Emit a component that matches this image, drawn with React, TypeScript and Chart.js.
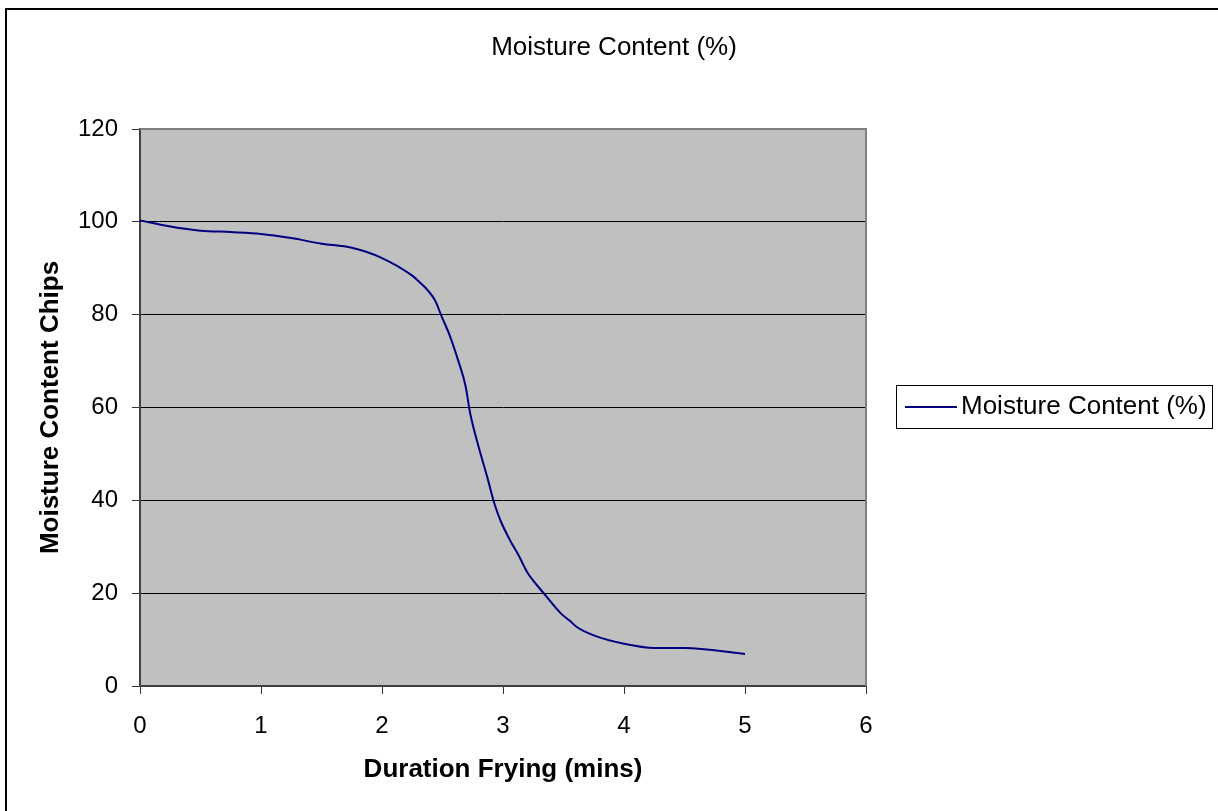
import React, { useEffect, useRef } from "react";
import { Chart, registerables } from "chart.js";

Chart.register(...registerables);

const chartTitle = "Moisture Content (%)";
const seriesLabel = "Moisture Content (%)";
const xAxisTitle = "Duration Frying (mins)";
const yAxisTitle = "Moisture Content Chips";

const durationMins = [
  0, 0.25, 0.5, 0.75, 1.0, 1.25, 1.5, 1.75, 2.0, 2.25, 2.31, 2.38, 2.44, 2.49, 2.56, 2.63, 2.69, 2.73,
  2.8, 2.87, 2.93, 2.98, 3.06, 3.13, 3.2, 3.25, 3.33, 3.48, 3.55, 3.61, 3.75, 4.0, 4.25, 4.5, 5.0,
];
const moisture = [
  100.3, 99.0, 98.1, 97.8, 97.4, 96.5, 95.3, 94.4, 92.2, 88.4, 87.0, 85.2, 83.0, 79.8, 75.5, 70.1, 64.7, 58.6,
  51.4, 45.0, 39.2, 35.6, 31.3, 28.1, 24.5, 22.7, 20.2, 15.6, 14.1, 12.7, 10.9, 9.1, 8.2, 8.2, 6.9,
];

const xMin = 0;
const xMax = 6;
const xStep = 1;
const yMin = 0;
const yMax = 120;
const yStep = 20;

const FONT = 'Arial, "Liberation Sans", sans-serif';

export default function App() {
  const ref = useRef<HTMLCanvasElement | null>(null);

  useEffect(() => {
    const canvas = ref.current;
    if (!canvas) return;

    const decor = {
      id: "decor",
      beforeDraw(chart: any) {
        const { ctx, chartArea: a } = chart;
        ctx.save();
        ctx.fillStyle = "#ffffff";
        ctx.fillRect(0, 0, chart.width, chart.height);
        ctx.fillStyle = "#C0C0C0";
        ctx.fillRect(a.left, a.top, a.right - a.left, a.bottom - a.top);
        // outer frame
        ctx.strokeStyle = "#000000";
        ctx.lineWidth = 2;
        ctx.beginPath();
        ctx.moveTo(6, chart.height + 5);
        ctx.lineTo(6, 9);
        ctx.lineTo(chart.width + 5, 9);
        ctx.stroke();
        // chart title
        ctx.fillStyle = "#000000";
        ctx.font = `26px ${FONT}`;
        ctx.textAlign = "center";
        ctx.textBaseline = "middle";
        ctx.fillText(chartTitle, 614, 48);
        ctx.restore();
      },
      beforeDatasetsDraw(chart: any) {
        const { ctx, chartArea: a } = chart;
        ctx.save();
        ctx.strokeStyle = "#808080";
        ctx.lineWidth = 2;
        ctx.beginPath();
        ctx.moveTo(a.left, a.top);
        ctx.lineTo(a.right, a.top);
        ctx.lineTo(a.right, a.bottom);
        ctx.stroke();
        ctx.restore();
      },
      afterDraw(chart: any) {
        const { ctx } = chart;
        const ds = chart.data.datasets[0];
        ctx.save();
        ctx.fillStyle = "#ffffff";
        ctx.fillRect(896.5, 385.5, 316, 43);
        ctx.strokeStyle = "#000000";
        ctx.lineWidth = 1;
        ctx.strokeRect(896.5, 385.5, 316, 43);
        ctx.strokeStyle = ds.borderColor;
        ctx.lineWidth = 2;
        ctx.beginPath();
        ctx.moveTo(905, 407);
        ctx.lineTo(957, 407);
        ctx.stroke();
        ctx.fillStyle = "#000000";
        ctx.font = `26px ${FONT}`;
        ctx.textAlign = "left";
        ctx.textBaseline = "middle";
        ctx.fillText(ds.label, 961, 407);
        ctx.restore();
      },
    };

    const chart = new Chart(canvas, {
      type: "line",
      data: {
        datasets: [
          {
            label: seriesLabel,
            data: durationMins.map((x, i) => ({ x, y: moisture[i] })),
            borderColor: "#000080",
            backgroundColor: "#000080",
            borderWidth: 2,
            pointRadius: 0,
            cubicInterpolationMode: "monotone",
            fill: false,
          },
        ],
      },
      options: {
        responsive: false,
        animation: false,
        devicePixelRatio: 1,
        layout: { padding: { top: 129, left: 35, right: 352, bottom: 26 } },
        plugins: {
          legend: { display: false },
          tooltip: { enabled: false },
          title: { display: false },
        },
        scales: {
          x: {
            type: "linear",
            min: xMin,
            max: xMax,
            afterFit(scale: any) {
              scale.height = 99;
            },
            ticks: {
              stepSize: xStep,
              color: "#000",
              padding: 18,
              font: { family: FONT, size: 24 },
              maxRotation: 0,
            },
            grid: {
              drawOnChartArea: false,
              drawTicks: true,
              tickLength: 8,
              tickColor: "#333333",
            },
            border: { display: true, color: "#404040", width: 2 },
            title: {
              display: true,
              text: xAxisTitle,
              color: "#000",
              font: { family: FONT, size: 26, weight: "bold" },
              padding: { top: 0, bottom: 0 },
            },
          },
          y: {
            type: "linear",
            min: yMin,
            max: yMax,
            afterFit(scale: any) {
              scale.width = 105;
            },
            ticks: {
              stepSize: yStep,
              color: "#000",
              padding: 14,
              font: { family: FONT, size: 24 },
            },
            grid: {
              color: (c: any) =>
                c.tick && (c.tick.value === yMin || c.tick.value === yMax) ? "rgba(0,0,0,0)" : "#000000",
              lineWidth: 1,
              drawTicks: true,
              tickLength: 8,
              tickColor: "#333333",
            },
            border: { display: true, color: "#404040", width: 2 },
            title: {
              display: true,
              text: yAxisTitle,
              color: "#000",
              font: { family: FONT, size: 26, weight: "bold" },
              padding: { top: 0, bottom: 0 },
            },
          },
        },
      },
      plugins: [decor],
    } as any);

    return () => chart.destroy();
  }, []);

  return (
    <div style={{ position: "absolute", left: 0, top: 0, width: 1218, height: 811, background: "#fff" }}>
      <canvas ref={ref} width={1218} height={811} style={{ display: "block" }} />
    </div>
  );
}
